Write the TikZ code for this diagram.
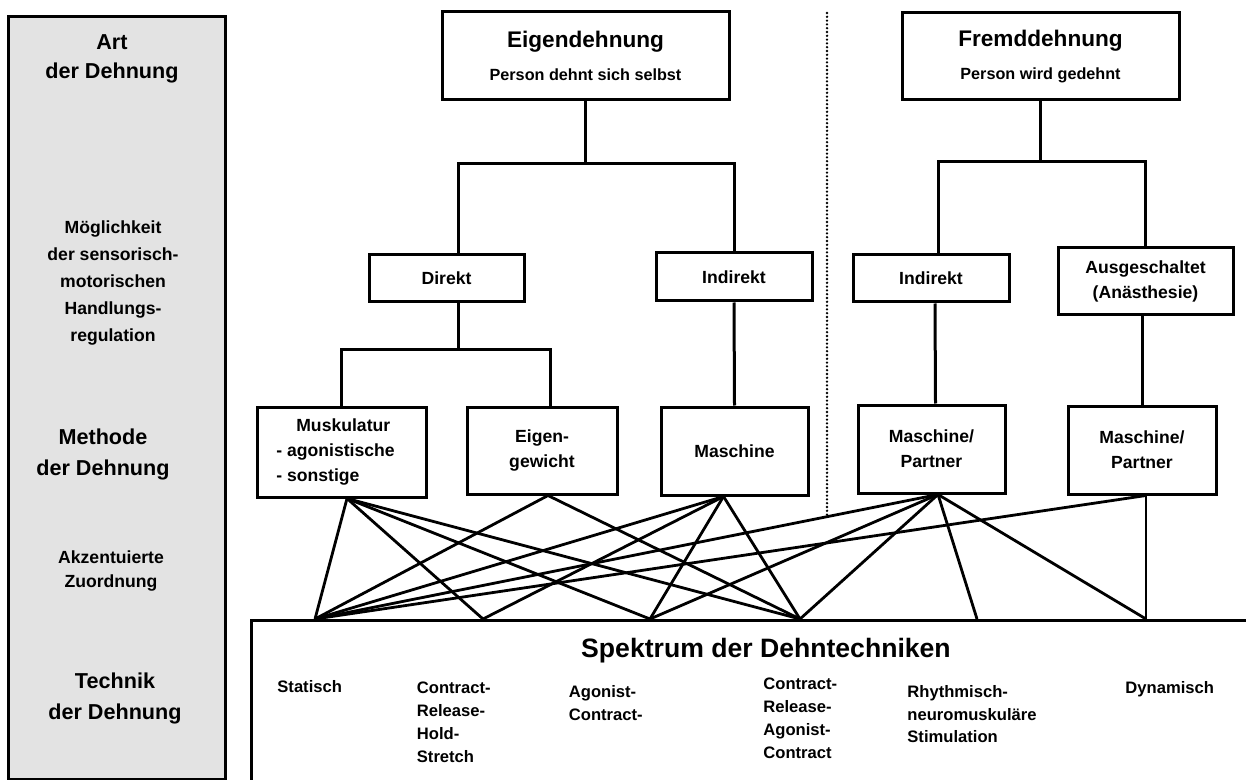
\documentclass[tikz,border=0pt]{standalone}
\usepackage{fontspec}
\setmainfont{Liberation Sans}
\newcommand{\fsz}[2]{\fontsize{#1}{#2}\selectfont\bfseries}

\begin{document}
\begin{tikzpicture}[x=0.5pt,y=-0.5pt,
  box/.style={draw,line width=1.5pt,align=center,inner sep=0pt,font={\fsz{8.8}{12.5}}},
  kind/.style={box,font={\fsz{8.1}{16.5}}},
  tree/.style={line width=1.5pt},
  link/.style={line width=1.4pt},
  side/.style={align=center,anchor=north,inner sep=0pt},
  tech/.style={align=left,anchor=north west,inner sep=0pt,font={\fsz{8.3}{11.35}}}]
\useasboundingbox (0,0) rectangle (1246,780);
\clip (0,0) rectangle (1246,780);

% Left column with the levels
\node[draw,line width=1.5pt,fill=black!11,minimum width=108.5pt,minimum height=381.5pt,
  anchor=north west,inner sep=0pt] (panel) at (7,15) {};
\node[side,font={\fsz{10.8}{14.5}}] (lvArt) at (112,34) {Art\\der Dehnung};
\node[side,font={\fsz{8.8}{13.5}}] (lvRegul) at (113,220)
  {Möglichkeit\\der sensorisch-\\motorischen\\Handlungs-\\regulation};
\node[side,font={\fsz{10.8}{15.5}}] (lvMeth) at (103,428) {Methode\\der Dehnung};
\node[side,font={\fsz{8.8}{12}}] (lvZuord) at (111,550) {Akzentuierte\\Zuordnung};
\node[side,font={\fsz{10.8}{15.5}}] (lvTech) at (115,672) {Technik\\der Dehnung};

% Separator between the two kinds
\draw[line width=1.3pt,line cap=round,dash pattern=on 0pt off 1.9pt]
  (827,13) coordinate (sepTop) -- (827,518) coordinate (sepBot);

% Kind of stretching
\node[kind,minimum width=143.5pt,minimum height=44pt] (eig) at (585.5,56)
  {{\fsz{11.3}{16.5}Eigendehnung}\\Person dehnt sich selbst};
\node[kind,minimum width=138.5pt,minimum height=43.5pt] (frm) at (1040.5,56.5)
  {{\fsz{11.3}{16.5}Fremddehnung}\\Person wird gedehnt};

% Sensorimotor regulation
\node[box,minimum width=77.5pt,minimum height=23.5pt] (dir) at (446.5,278.5) {Direkt};
\node[box,minimum width=78pt,minimum height=24pt] (indE) at (734,277) {Indirekt};
\node[box,minimum width=78pt,minimum height=23.5pt] (indF) at (931,278.5) {Indirekt};
\node[box,minimum width=87.5pt,minimum height=33.5pt] (aus) at (1145.5,281.5)
  {Ausgeschaltet\\(Anästhesie)};

% Method
\node[box,minimum width=84.5pt,minimum height=45pt,align=left] (m1) at (341.5,452)
  {\hspace*{10pt}Muskulatur\\- agonistische\rule{6pt}{0pt}\\- sonstige};
\node[box,minimum width=75pt,minimum height=43.5pt] (m2) at (542,450.5) {Eigen-\\gewicht};
\node[box,minimum width=73.5pt,minimum height=44pt] (m3) at (734.5,451) {Maschine};
\node[box,minimum width=73.5pt,minimum height=44pt] (m4) at (931.5,449) {Maschine/\\Partner};
\node[box,minimum width=74pt,minimum height=44pt] (m5) at (1142,450) {Maschine/\\Partner};

% Spectrum of techniques
\node[draw,line width=1.5pt,minimum width=520pt,minimum height=100pt,
  anchor=north west,inner sep=0pt] (spec) at (250,619) {};
\node[anchor=north,inner sep=0pt,font={\fsz{13.3}{16}}] (specTitle) at (766,638)
  {Spektrum der Dehntechniken};
\node[tech] (tStat) at (277,680) {Statisch};
\node[tech] (tCRHS) at (416.5,682) {Contract-\\Release-\\Hold-\\Stretch};
\node[tech] (tAC) at (568.5,685) {Agonist-\\Contract-};
\node[tech] (tCRAC) at (763,678) {Contract-\\Release-\\Agonist-\\Contract};
\node[tech] (tRNS) at (907,685) {Rhythmisch-\\neuromuskuläre\\Stimulation};
\node[tech] (tDyn) at (1125,681) {Dynamisch};

% Tree
\draw[tree] (eig.south) -- ++(0,62) -| ([xshift=6pt]dir.north);
\draw[tree] (eig.south) -- ++(0,62) -| (indE.north);
\draw[tree] (frm.south) -- ++(0,60) -| ([xshift=3.5pt]indF.north);
\draw[tree] (frm.south) -- ++(0,60) -| (aus.north);
\draw[tree] ([xshift=6pt]dir.south) -- ++(0,46) -| (m1.north);
\draw[tree] ([xshift=6pt]dir.south) -- ++(0,46) -| ([xshift=4pt]m2.north);
\draw[tree] (indE.south) -- (m3.north);
\draw[tree] ([xshift=2pt]indF.south) -- ([xshift=2pt]m4.north);
\draw[tree] (aus.south -| m5.north) -- (m5.north);

% Accentuated assignment
\coordinate (t1) at ([xshift=2.75pt]m1.south);
\coordinate (t2) at ([xshift=3pt]m2.south);
\coordinate (t3) at ([xshift=-5.5pt]m3.south);
\coordinate (t4) at ([xshift=3.25pt]m4.south);
\coordinate (t5) at ([xshift=2pt]m5.south);
\foreach \x [count=\i] in {315,483,650,800,977,1146}
  \coordinate (s\i) at (\x,619);
\foreach \a/\b in {1/1,1/2,1/3,1/4,2/1,2/4,3/1,3/2,3/3,3/4,4/1,4/3,4/4,4/5,4/6,5/1,5/6}
  \draw[link] (t\a) -- (s\b);
\end{tikzpicture}
\end{document}
